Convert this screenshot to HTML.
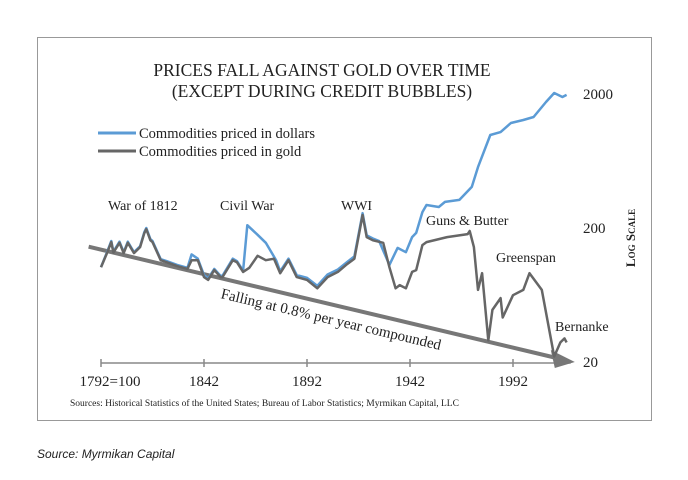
<!DOCTYPE html>
<html><head><meta charset="utf-8"><style>
body{margin:0;background:#fff;width:688px;height:475px;overflow:hidden}
svg text{font-family:"Liberation Serif",serif;fill:#222}
</style></head><body>
<svg width="688" height="475">
<rect x="37.5" y="37.5" width="614" height="383" fill="none" stroke="#999" stroke-width="1"/>
<text x="322" y="76" font-size="17.5" text-anchor="middle">PRICES FALL AGAINST GOLD OVER TIME</text>
<text x="322" y="97" font-size="17.5" text-anchor="middle">(EXCEPT DURING CREDIT BUBBLES)</text>
<line x1="98" y1="133" x2="136" y2="133" stroke="#5b9bd5" stroke-width="3"/>
<text x="139" y="138" font-size="14.5">Commodities priced in dollars</text>
<line x1="98" y1="151" x2="136" y2="151" stroke="#666" stroke-width="3"/>
<text x="139" y="156" font-size="14.5">Commodities priced in gold</text>
<g id="axes"></g>
<g id="marks"></g>
<text x="108" y="210" font-size="14">War of 1812</text>
<text x="220" y="210" font-size="14">Civil War</text>
<text x="341" y="210" font-size="14">WWI</text>
<text x="426" y="225" font-size="14">Guns &amp; Butter</text>
<text x="496" y="262" font-size="14">Greenspan</text>
<text x="555" y="331" font-size="14">Bernanke</text>
<text x="0" y="0" font-size="15" transform="translate(330,324) rotate(13.3)" text-anchor="middle">Falling at 0.8% per year compounded</text>
<text x="0" y="0" font-size="13" transform="translate(635,238) rotate(-90)" text-anchor="middle" font-weight="bold" style="font-variant:small-caps">Log Scale</text>
<text x="70" y="406" font-size="9.5">Sources: Historical Statistics of the United States; Bureau of Labor Statistics; Myrmikan Capital, LLC</text>
<text x="37" y="458" font-size="12" font-style="italic" style="font-family:'Liberation Sans',sans-serif">Source: Myrmikan Capital</text>
</svg>
<script>
const xTickLabels=["1792=100","1842","1892","1942","1992"];
const xTickYears=[1792,1842,1892,1942,1992];
const yTickValues=[2000,200,20];
const goldYears=[1792,1795,1797,1798,1801,1803,1805,1808,1811,1813,1814,1816,1817,1821,1824,1829,1834,1836,1839,1842,1844,1847,1850,1851,1856,1858,1861,1864,1868,1872,1876,1879,1883,1887,1892,1897,1902,1907,1911,1915,1919,1921,1924,1929,1932,1935,1937,1940,1943,1945,1948,1950,1960,1970,1971,1973,1975,1977,1980,1982,1986,1987,1992,1997,2000,2006,2012,2015,2017,2018];
const goldValues=[102,131,157,131,155,130,155,130,144,183,196,162,157,115,111,104,99,115,115,86,82,97,86,86,115,111,94,101,124,115,118,92,115,86,82,71,86,94,106,118,250,171,162,155,102,71,75,71,94,97,149,157,171,180,190,144,69,92,29,49,60,43,63,69,92,69,22,28,30,28];
const dollarYears=[1792,1795,1797,1798,1801,1803,1805,1808,1811,1813,1814,1816,1817,1821,1824,1829,1834,1836,1839,1842,1844,1847,1850,1851,1856,1858,1861,1863,1868,1872,1877,1879,1883,1887,1892,1897,1902,1907,1911,1915,1919,1921,1924,1927,1932,1936,1940,1943,1945,1948,1950,1956,1959,1966,1972,1975,1981,1986,1991,1997,2002,2008,2012,2016,2018];
const dollarValues=[102,133,160,133,158,132,158,132,146,186,200,165,160,117,113,106,101,127,118,89,84,99,88,88,118,113,96,210,178,155,115,95,118,89,85,74,90,98,110,123,258,176,167,160,106,142,132,171,184,263,297,287,313,324,405,570,988,1040,1216,1280,1346,1742,2035,1900,1970];
const trendYears=[1786,2022];
const trendValues=[145,20];
const X=y=>101+(y-1792)*2.06;
const Y=v=>362-134*Math.log10(v/20);
const NS="http://www.w3.org/2000/svg";
const axes=document.getElementById('axes'),marks=document.getElementById('marks');
function mk(tag,attrs,parent){const e=document.createElementNS(NS,tag);for(const k in attrs)e.setAttribute(k,attrs[k]);parent.appendChild(e);return e;}
let ax=mk('line',{x1:X(1792),y1:363,x2:X(2020),y2:363,stroke:'#888','stroke-width':1.5},axes);


xTickYears.forEach((yr,i)=>{
 const t=mk('line',{x1:X(yr),y1:359,x2:X(yr),y2:367,stroke:'#888','stroke-width':1.5},axes);
 
 
 const tx=mk('text',{x:i==0?X(yr)+9:X(yr),y:386,'font-size':15,'text-anchor':'middle'},axes);
 tx.textContent=xTickLabels[i];
 
 
});
yTickValues.forEach(v=>{
 const tx=mk('text',{x:583,y:Y(v)+5,'font-size':15},axes);
 tx.textContent=String(v);
 
 
});
const tl=mk('line',{x1:X(trendYears[0]),y1:Y(trendValues[0]),x2:X(trendYears[1])-14,y2:Y(trendValues[1])-3,stroke:'#777','stroke-width':4},marks);


const ex=X(trendYears[1]),ey=Y(trendValues[1]);
const ah=mk('polygon',{points:`${ex},${ey} ${ex-24},${ey-12} ${ex-20},${ey+6}`,fill:'#777'},marks);


function path(ys,vs){return ys.map((y,i)=>(i?'L':'M')+X(y).toFixed(1)+','+Y(vs[i]).toFixed(1)).join('');}
const pd=mk('path',{d:path(dollarYears,dollarValues),fill:'none',stroke:'#5b9bd5','stroke-width':2.5,'stroke-linejoin':'round'},marks);


const pg=mk('path',{d:path(goldYears,goldValues),fill:'none',stroke:'#666','stroke-width':2.5,'stroke-linejoin':'round'},marks);


</script>
</body></html>
